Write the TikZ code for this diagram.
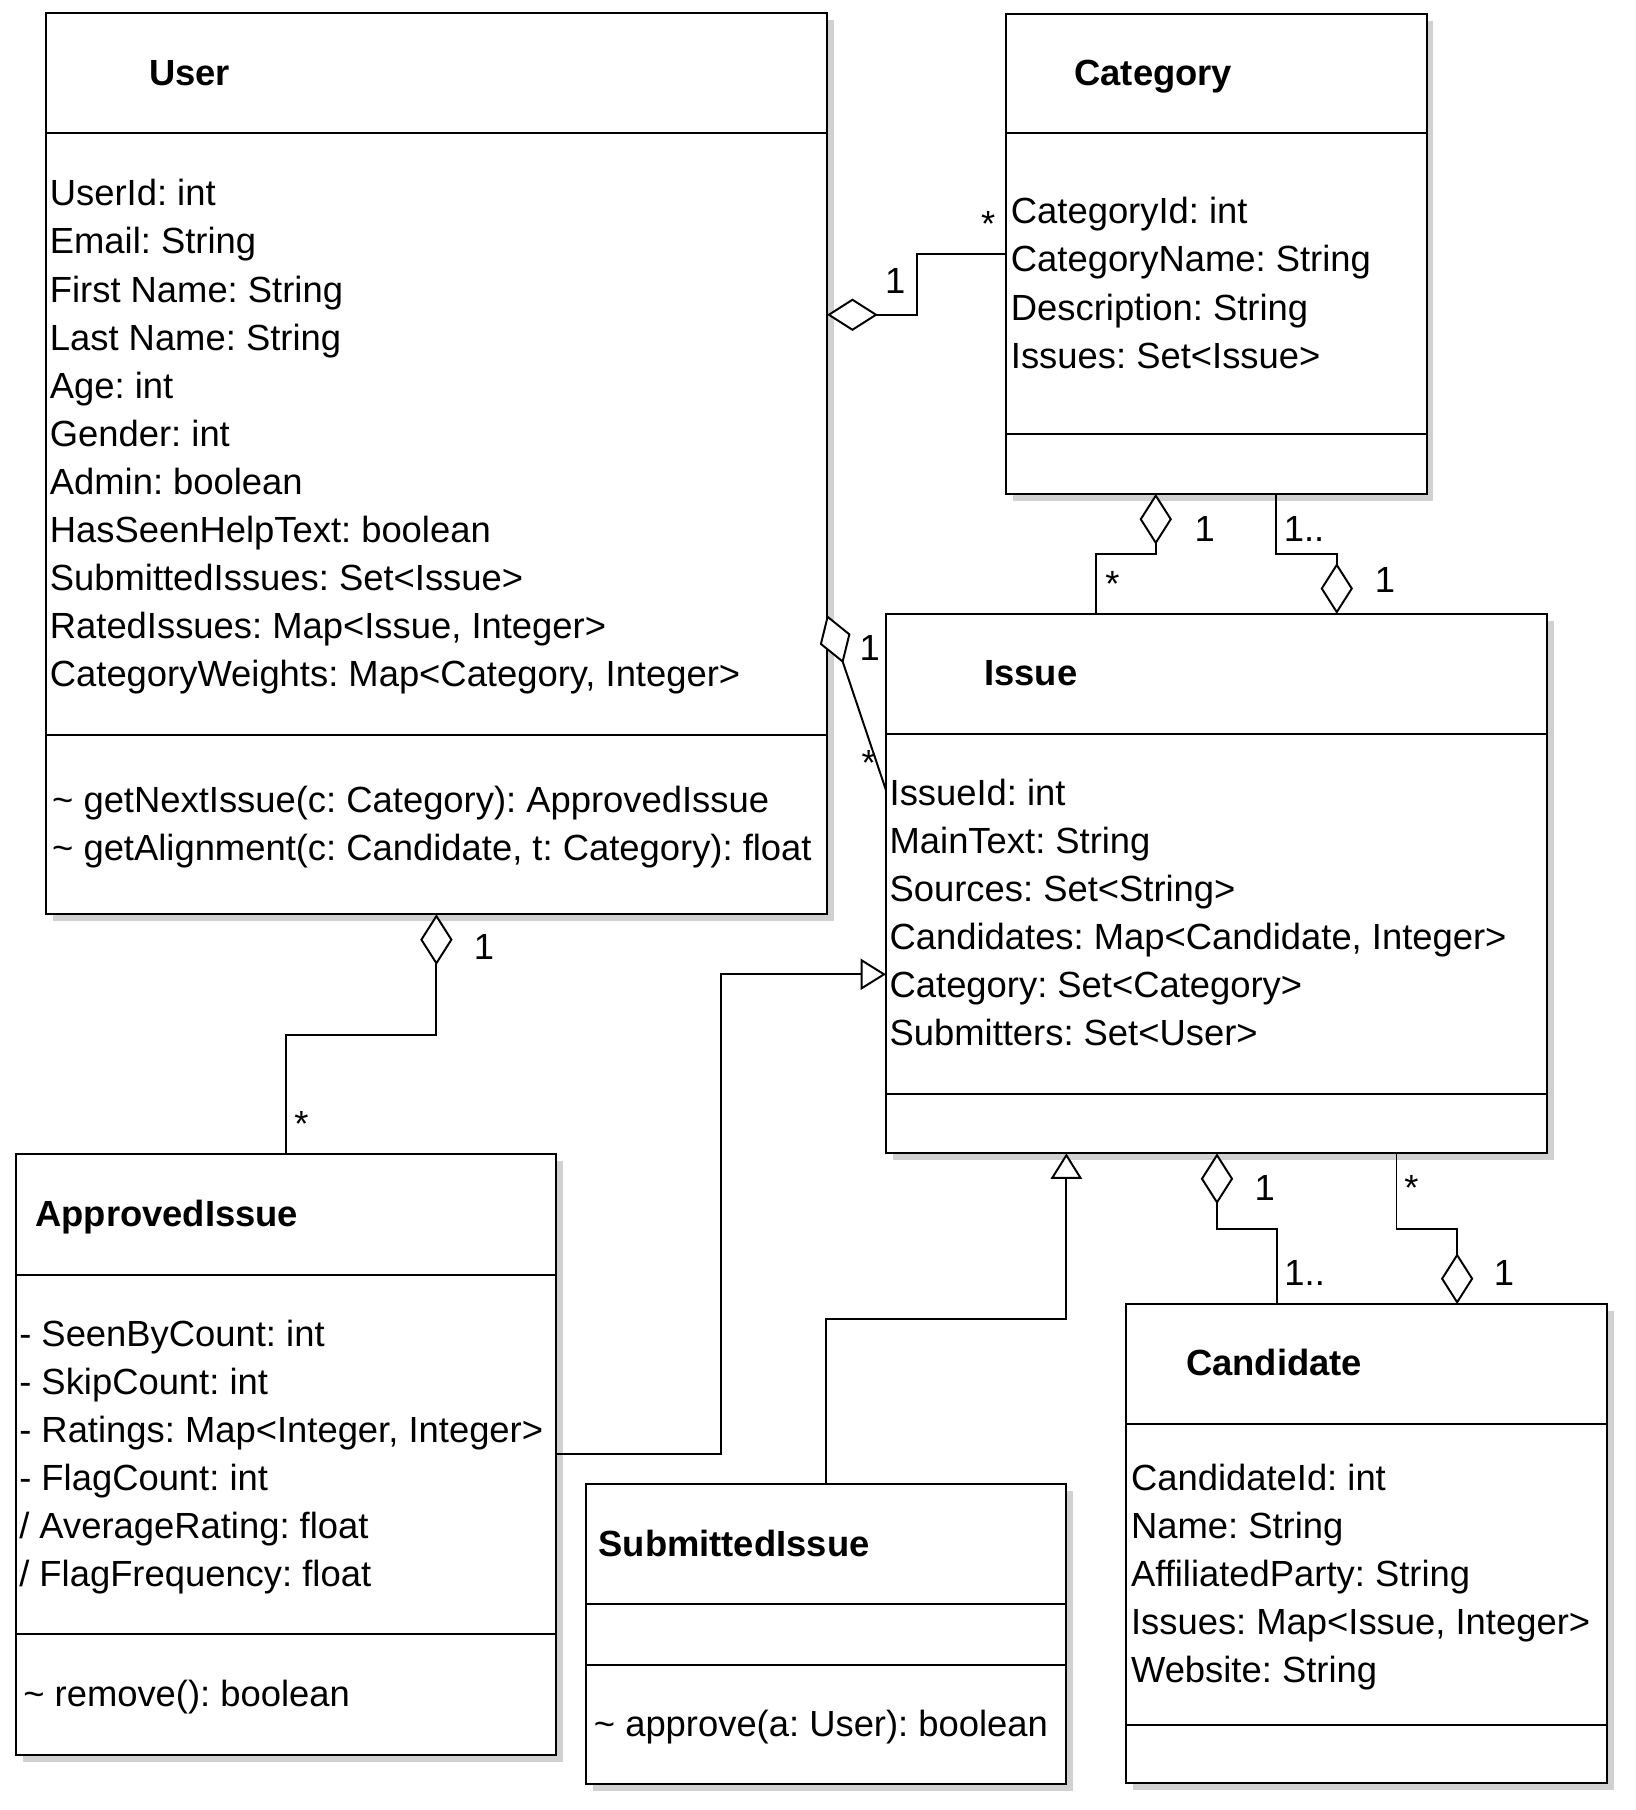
\documentclass[tikz,border=0pt]{standalone}
\usepackage{fontspec}
\setmainfont{Liberation Sans}
\usetikzlibrary{arrows.meta,shadows}
\newcommand\umlstrut{\vrule height 31.3pt depth 10.3pt width 0pt\relax}
\frenchspacing
\begin{document}
\begin{tikzpicture}[x=1pt,y=-1pt,
  umlbox/.style={draw, line width=1.7pt, fill=white, inner sep=0pt, outer sep=0pt, anchor=north west,
    drop shadow={shadow xshift=6pt, shadow yshift=-6pt, fill=black!18, opacity=1}},
  sepline/.style={line width=1.7pt},
  umltitle/.style={anchor=west, inner sep=0pt, font=\fontsize{31.5}{41.6}\selectfont\bfseries},
  attrs/.style={anchor=west, align=left, inner sep=0pt, font=\fontsize{31.5}{41.6}\selectfont\frenchspacing},
  mult/.style={inner sep=0pt, font=\fontsize{31.5}{41.6}\selectfont},
  conn/.style={line width=1.7pt},
  aggtip/.tip={Diamond[length=44pt,width=28pt,fill=white]},
  gentip/.tip={Triangle[length=22pt,width=27pt,fill=white]}
]
\useasboundingbox (0,0) rectangle (1416,1567);

% ---- class boxes
\node[umlbox, minimum width=676pt, minimum height=780pt] (User) at (40,11.5) {};
\node[umlbox, minimum width=364pt, minimum height=415.5pt] (Category) at (871,12) {};
\node[umlbox, minimum width=572pt, minimum height=467pt] (Issue) at (767,531.5) {};
\node[umlbox, minimum width=468pt, minimum height=520pt] (ApprovedIssue) at (13.5,999) {};
\node[umlbox, minimum width=415.5pt, minimum height=259.5pt] (SubmittedIssue) at (507.5,1285) {};
\node[umlbox, minimum width=416pt, minimum height=414.5pt] (Candidate) at (975,1129) {};

% ---- compartment lines
\draw[sepline] ([yshift=-104pt]User.north west) -- ([yshift=-104pt]User.north east);
\draw[sepline] ([yshift=-624.5pt]User.north west) -- ([yshift=-624.5pt]User.north east);
\draw[sepline] ([yshift=-103.5pt]Category.north west) -- ([yshift=-103.5pt]Category.north east);
\draw[sepline] ([yshift=-364pt]Category.north west) -- ([yshift=-364pt]Category.north east);
\draw[sepline] ([yshift=-103.8pt]Issue.north west) -- ([yshift=-103.8pt]Issue.north east);
\draw[sepline] ([yshift=-415.5pt]Issue.north west) -- ([yshift=-415.5pt]Issue.north east);
\draw[sepline] ([yshift=-104.5pt]ApprovedIssue.north west) -- ([yshift=-104.5pt]ApprovedIssue.north east);
\draw[sepline] ([yshift=-416pt]ApprovedIssue.north west) -- ([yshift=-416pt]ApprovedIssue.north east);
\draw[sepline] ([yshift=-104pt]SubmittedIssue.north west) -- ([yshift=-104pt]SubmittedIssue.north east);
\draw[sepline] ([yshift=-156.5pt]SubmittedIssue.north west) -- ([yshift=-156.5pt]SubmittedIssue.north east);
\draw[sepline] ([yshift=-103.5pt]Candidate.north west) -- ([yshift=-103.5pt]Candidate.north east);
\draw[sepline] ([yshift=-364pt]Candidate.north west) -- ([yshift=-364pt]Candidate.north east);

% ---- titles
\node[umltitle] (UserT) at (129,63.5) {\umlstrut User};
\node[umltitle] (CategoryT) at (930,63.75) {\umlstrut Category};
\node[umltitle] (IssueT) at (852,583.25) {\umlstrut Issue};
\node[umltitle] (ApprovedIssueT) at (30.4,1051.25) {\umlstrut ApprovedIssue};
\node[umltitle] (SubmittedIssueT) at (518,1337) {\umlstrut SubmittedIssue};
\node[umltitle] (CandidateT) at (1026.6,1180.75) {\umlstrut Candidate};

% ---- attributes and operations
\node[attrs] (UserA) at (43,375.75) {\umlstrut UserId: int\\
\umlstrut Email: String\\
\umlstrut First Name: String\\
\umlstrut Last Name: String\\
\umlstrut Age: int\\
\umlstrut Gender: int\\
\umlstrut Admin: boolean\\
\umlstrut HasSeenHelpText: boolean\\
\umlstrut SubmittedIssues: Set<Issue>\\
\umlstrut RatedIssues: Map<Issue, Integer>\\
\umlstrut CategoryWeights: Map<Category, Integer>};
\node[attrs] (UserM) at (45,713.75) {\umlstrut \textasciitilde{} getNextIssue(c: Category): ApprovedIssue\\
\umlstrut \textasciitilde{} getAlignment(c: Candidate, t: Category): float};

\node[attrs] (CategoryA) at (875,245.75) {\umlstrut CategoryId: int\\
\umlstrut CategoryName: String\\
\umlstrut Description: String\\
\umlstrut Issues: Set<Issue>};

\node[attrs] (IssueA) at (770,791) {\umlstrut IssueId: int\\
\umlstrut MainText: String\\
\umlstrut Sources: Set<String>\\
\umlstrut Candidates: Map<Candidate, Integer>\\
\umlstrut Category: Set<Category>\\
\umlstrut Submitters: Set<User>};

\node[attrs] (ApprovedIssueA) at (16.5,1259.25) {\umlstrut - SeenByCount: int\\
\umlstrut - SkipCount: int\\
\umlstrut - Ratings: Map<Integer, Integer>\\
\umlstrut - FlagCount: int\\
\umlstrut / AverageRating: float\\
\umlstrut / FlagFrequency: float};
\node[attrs] (ApprovedIssueM) at (20,1467) {\umlstrut \textasciitilde{} remove(): boolean};

\node[attrs] (SubmittedIssueM) at (514,1493) {\umlstrut \textasciitilde{} approve(a: User): boolean};

\node[attrs] (CandidateA) at (979,1362.75) {\umlstrut CandidateId: int\\
\umlstrut Name: String\\
\umlstrut AffiliatedParty: String\\
\umlstrut Issues: Map<Issue, Integer>\\
\umlstrut Website: String};

% ---- connectors
\draw[conn, {aggtip}-] ([yshift=-261pt]User.north east) -- ++(78,0) |- ([yshift=-208pt]Category.north west);
\draw[conn, {aggtip}-] ([xshift=129.6pt]Category.south west) -- ++(0,52.5) -| ([xshift=181.8pt]Issue.north west);
\draw[conn, -{aggtip}] ([xshift=234pt]Category.south west) -- ++(0,52.5) -| ([xshift=390.3pt]Issue.north west);
\draw[conn, {aggtip}-] ([yshift=-521pt]User.north east) -- ([yshift=-152.5pt]Issue.north west);
\draw[conn, {aggtip}-] ([xshift=337.8pt]User.south west) -- ++(0,104.5) -| ([xshift=234.3pt]ApprovedIssue.north west);
\draw[conn, -{gentip}] ([yshift=-260pt]ApprovedIssue.north east) -- ++(143,0) |- ([yshift=-312pt]Issue.north west);
\draw[conn, -{gentip}] ([xshift=208pt]SubmittedIssue.north west) -- ++(0,-143) -| ([xshift=156.2pt]Issue.south west);
\draw[conn, {aggtip}-] ([xshift=286.6pt]Issue.south west) -- ++(0,65.5) -| ([xshift=130.7pt]Candidate.north west);
\draw[conn, -{aggtip}] ([xshift=442pt]Issue.south west) -- ++(0,65.5) -| ([xshift=286.5pt]Candidate.north west);

% ---- multiplicities
\node[mult] (m1) at (775,243) {1};
\node[mult] (m2) at (855.5,194.3) {*};
\node[mult] (m3) at (1043,458) {1};
\node[mult] (m4) at (963,505.4) {*};
\node[mult] (m5) at (1129,458) {1..};
\node[mult] (m6) at (1199,502) {1};
\node[mult] (m7) at (753,561) {1};
\node[mult] (m8) at (752,660.5) {*};
\node[mult] (m9) at (419,820) {1};
\node[mult] (m10) at (261,972.8) {*};
\node[mult] (m11) at (1095,1028.6) {1};
\node[mult] (m12) at (1129.5,1102) {1..};
\node[mult] (m13) at (1222,1028.4) {*};
\node[mult] (m14) at (1302,1102) {1};
\end{tikzpicture}
\end{document}
